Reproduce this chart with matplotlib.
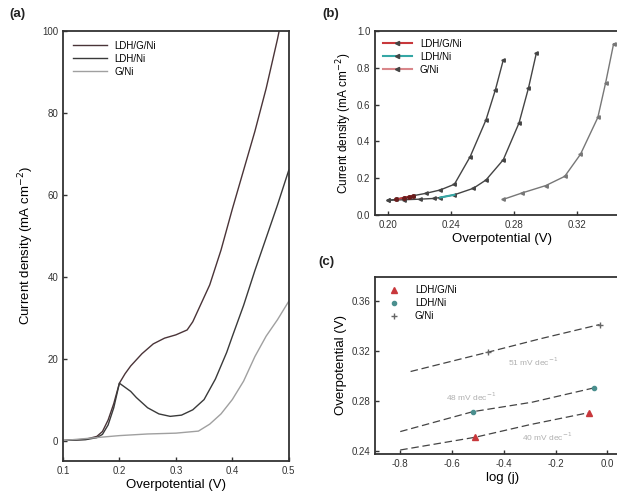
import numpy as np
import matplotlib
matplotlib.use('Agg')
from matplotlib import pyplot as plt
from matplotlib.lines import Line2D

plt.rcParams['font.family'] = ['Liberation Sans', 'DejaVu Sans']

# (a) polarization curves
eta_lgn = [0.10, 0.14, 0.16, 0.17, 0.18, 0.19, 0.20, 0.21, 0.22, 0.24, 0.26, 0.28,
           0.30, 0.32, 0.33, 0.34, 0.36, 0.38, 0.40, 0.42, 0.44, 0.46, 0.48, 0.483]
j_lgn = [0.0, 0.3, 1.0, 2.2, 5.0, 9.0, 14.0, 16.3, 18.2, 21.2, 23.6, 25.0,
         25.8, 27.0, 29.0, 32.0, 38.0, 46.5, 56.5, 66.0, 75.5, 86.0, 98.0, 100.0]

eta_ln = [0.10, 0.14, 0.16, 0.17, 0.18, 0.19, 0.20, 0.21, 0.22, 0.23, 0.25, 0.27,
          0.29, 0.31, 0.33, 0.35, 0.37, 0.39, 0.40, 0.42, 0.44, 0.46, 0.48, 0.50]
j_ln = [0.0, 0.2, 0.7, 1.5, 3.8, 8.0, 14.0, 13.0, 12.0, 10.5, 8.0, 6.5,
        5.9, 6.2, 7.5, 10.0, 15.0, 21.5, 25.4, 33.0, 41.5, 49.5, 57.5, 66.0]

eta_g = [0.10, 0.15, 0.20, 0.25, 0.30, 0.34, 0.36, 0.38, 0.40, 0.42, 0.44, 0.46, 0.48, 0.50]
j_g = [0.0, 0.6, 1.2, 1.6, 1.8, 2.3, 4.0, 6.5, 10.0, 14.5, 20.5, 25.5, 29.5, 34.0]

# (b) low current region
b_eta_lgn = [0.200, 0.205, 0.210, 0.213, 0.216, 0.224, 0.233, 0.242, 0.252, 0.262, 0.268, 0.273]
b_j_lgn = [0.080, 0.085, 0.095, 0.100, 0.105, 0.118, 0.136, 0.167, 0.317, 0.516, 0.680, 0.842]
b_eta_ln = [0.200, 0.210, 0.220, 0.229, 0.233, 0.242, 0.254, 0.262, 0.273, 0.283, 0.289, 0.294]
b_j_ln = [0.080, 0.083, 0.086, 0.090, 0.095, 0.110, 0.145, 0.190, 0.300, 0.500, 0.690, 0.880]
b_eta_g = [0.273, 0.285, 0.300, 0.312, 0.322, 0.333, 0.338, 0.343]
b_j_g = [0.085, 0.120, 0.160, 0.210, 0.330, 0.530, 0.720, 0.930]

# (c) Tafel plots
t_logj_lgn = [-0.80, -0.51, -0.30, -0.07]
t_eta_lgn = [0.2408, 0.2510, 0.2610, 0.2707]
t_logj_ln = [-0.80, -0.52, -0.29, -0.05]
t_eta_ln = [0.2555, 0.2714, 0.2790, 0.2905]
t_logj_g = [-0.76, -0.46, -0.26, -0.03]
t_eta_g = [0.3035, 0.3190, 0.3296, 0.3410]
slope_text = ['40 mV dec$^{-1}$', '48 mV dec$^{-1}$', '51 mV dec$^{-1}$']

labels = ['LDH/G/Ni', 'LDH/Ni', 'G/Ni']
c_red = '#c8383c'
c_teal = '#35a7a5'
c_pink = '#d9868a'
dark = '#444444'

fig = plt.figure(figsize=(6.17, 5.0), dpi=100)
ax_a = fig.add_axes([0.102, 0.078, 0.366, 0.860])
ax_b = fig.add_axes([0.608, 0.570, 0.412, 0.368])
ax_c = fig.add_axes([0.608, 0.092, 0.412, 0.355])

for ax in (ax_a, ax_b, ax_c):
    for s in ax.spines.values():
        s.set_linewidth(1.3)
        s.set_color('#333333')
    ax.tick_params(direction='in', labelsize=7, width=1, length=3,
                   colors='#333333')

# panel a
ax_a.plot(eta_lgn, j_lgn, color='#4a3438', lw=1.0, label=labels[0])
ax_a.plot(eta_ln, j_ln, color='#3a3a3a', lw=1.0, label=labels[1])
ax_a.plot(eta_g, j_g, color='#a0a0a0', lw=1.0, label=labels[2])
ax_a.set_xlim(0.1, 0.5)
ax_a.set_ylim(-5, 100)
ax_a.set_xticks([0.1, 0.2, 0.3, 0.4, 0.5])
ax_a.set_yticks([0, 20, 40, 60, 80, 100])
ax_a.set_xlabel('Overpotential (V)', fontsize=9.5, labelpad=2)
ax_a.set_ylabel('Current density (mA cm$^{-2}$)', fontsize=9.5, labelpad=4)
ax_a.legend(loc='upper left', frameon=False, fontsize=7, handlelength=3.5,
            borderaxespad=0.6, labelspacing=0.3)

# panel b
ax_b.plot(b_eta_lgn, b_j_lgn, color=dark, lw=1.0, marker='<', ms=2.5)
ax_b.plot(b_eta_ln, b_j_ln, color=dark, lw=1.0, marker='<', ms=2.5)
ax_b.plot(b_eta_g, b_j_g, color='#777777', lw=1.0, marker='<', ms=2.5)
ax_b.plot(b_eta_lgn[1:5], b_j_lgn[1:5], color=c_red, lw=1.2, marker='o', ms=2.5,
          mfc='#6a1c1c', mec='#6a1c1c')
ax_b.plot(b_eta_ln[4:6], b_j_ln[4:6], color=c_teal, lw=1.5)
ax_b.set_xlim(0.1917, 0.353)
ax_b.set_ylim(0.0, 1.0)
ax_b.set_xticks([0.20, 0.24, 0.28, 0.32])
ax_b.set_yticks([0.0, 0.2, 0.4, 0.6, 0.8, 1.0])
ax_b.xaxis.set_major_formatter(plt.FormatStrFormatter('%.2f'))
ax_b.yaxis.set_major_formatter(plt.FormatStrFormatter('%.1f'))
ax_b.set_xlabel('Overpotential (V)', fontsize=9.5, labelpad=2)
ax_b.set_ylabel('Current density (mA cm$^{-2}$)', fontsize=8.5, labelpad=2)
b_handles = [Line2D([], [], color=c, lw=1.5, marker='<', ms=3, mfc=dark, mec=dark)
             for c in (c_red, c_teal, c_pink)]
ax_b.legend(b_handles, labels, loc='upper left', frameon=False, fontsize=7,
            handlelength=3.0, borderaxespad=0.4, labelspacing=0.3)

# panel c
ax_c.plot(t_logj_lgn, t_eta_lgn, color=dark, lw=0.9, ls=(0, (6, 3)))
ax_c.plot(t_logj_ln, t_eta_ln, color=dark, lw=0.9, ls=(0, (6, 3)))
ax_c.plot(t_logj_g, t_eta_g, color=dark, lw=0.9, ls=(0, (6, 3)))
ax_c.plot(t_logj_lgn[1::2], t_eta_lgn[1::2], ls='none', marker='^', ms=4, color=c_red)
ax_c.plot(t_logj_ln[1::2], t_eta_ln[1::2], ls='none', marker='o', ms=3, color='#4a8f8e')
ax_c.plot(t_logj_g[1::2], t_eta_g[1::2], ls='none', marker='+', ms=4, color='#666666')
ax_c.text(-0.232, 0.2514, slope_text[0], fontsize=6, color='#b0b0b0',
          ha='center', va='center')
ax_c.text(-0.526, 0.2834, slope_text[1], fontsize=6, color='#b0b0b0',
          ha='center', va='center')
ax_c.text(-0.286, 0.3114, slope_text[2], fontsize=6, color='#b0b0b0',
          ha='center', va='center')
ax_c.set_xlim(-0.897, 0.085)
ax_c.set_ylim(0.2376, 0.3794)
ax_c.set_xticks([-0.8, -0.6, -0.4, -0.2, 0.0])
ax_c.set_yticks([0.24, 0.28, 0.32, 0.36])
ax_c.xaxis.set_major_formatter(plt.FormatStrFormatter('%.1f'))
ax_c.yaxis.set_major_formatter(plt.FormatStrFormatter('%.2f'))
ax_c.set_xlabel('log (j)', fontsize=9.5, labelpad=2)
ax_c.set_ylabel('Overpotential (V)', fontsize=9.5, labelpad=3)
c_handles = [Line2D([], [], ls='none', marker='^', ms=4, color=c_red),
             Line2D([], [], ls='none', marker='o', ms=3, color='#4a8f8e'),
             Line2D([], [], ls='none', marker='+', ms=4, color='#666666')]
ax_c.legend(c_handles, labels, loc='upper left', frameon=False, fontsize=7,
            handletextpad=1.2, borderaxespad=0.5, labelspacing=0.3)

fig.text(0.016, 0.965, '(a)', fontsize=9.5, fontweight='bold', color='#222222')
fig.text(0.522, 0.965, '(b)', fontsize=9.5, fontweight='bold', color='#222222')
fig.text(0.516, 0.470, '(c)', fontsize=9.5, fontweight='bold', color='#222222')

fig.savefig('out.png', dpi=100)
plt.close(fig)
